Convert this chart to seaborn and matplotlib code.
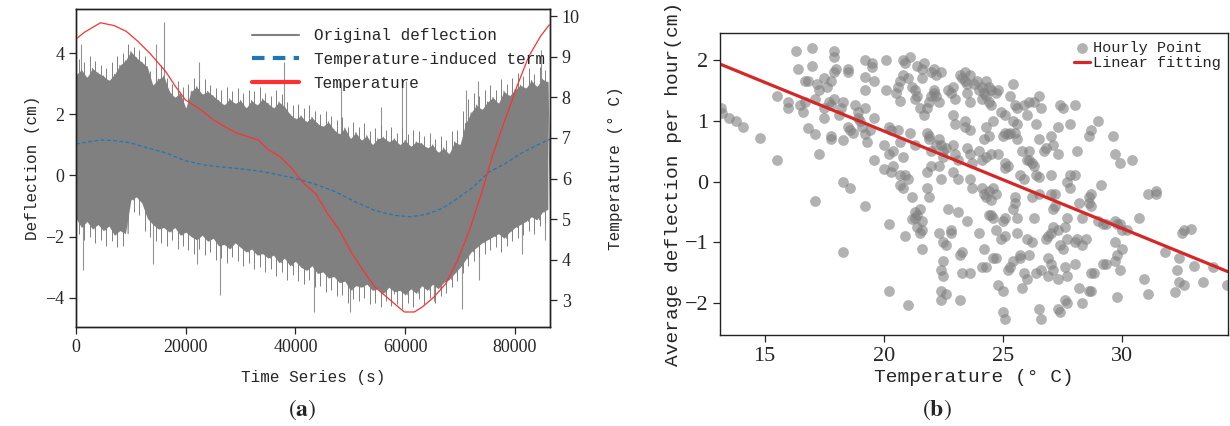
import numpy as np
import pandas as pd
import seaborn as sns
import matplotlib.pyplot as plt

# ---- panel (a): deflection time series ----
# dense band of the raw signal, read as upper / lower envelope every 1000 s
env_t = np.arange(0, 87000, 1000)
env_upper = [3.3, 3.45, 3.2, 3.5, 3.35, 3.25, 3.1, 3.3, 3.6, 3.75,
             4.05, 3.85, 3.7, 3.55, 2.95, 3.15, 3.25, 2.75, 2.55, 2.7,
             2.2, 2.75, 2.9, 2.65, 2.75, 2.6, 2.45, 2.3, 2.5, 2.35,
             2.45, 2.2, 2.45, 2.3, 2.5, 2.35, 2.2, 2.4, 2.25, 2.0,
             1.85, 1.95, 1.75, 1.9, 1.7, 1.6, 1.75, 1.5, 1.35, 1.55,
             1.2, 1.4, 1.15, 1.3, 1.0, 1.2, 1.25, 1.1, 1.2, 1.0,
             1.15, 0.95, 1.1, 1.05, 0.9, 1.0, 0.75, 0.9, 0.7, 1.1,
             1.0, 1.7, 2.05, 2.3, 2.15, 2.4, 2.55, 2.35, 2.75, 2.6,
             2.8, 2.95, 2.85, 3.1, 2.9, 3.15, 3.05]
env_lower = [-1.4, -1.7, -1.5, -1.75, -1.6, -1.8, -1.65, -1.95, -1.8, -1.9,
             -0.8, -0.7, -0.9, -1.4, -1.6, -1.75, -1.7, -1.85, -1.7, -1.95,
             -1.85, -2.0, -2.1, -1.95, -2.15, -2.05, -2.3, -2.25, -2.4, -2.2,
             -2.35, -2.5, -2.4, -2.6, -2.55, -2.7, -2.6, -2.85, -2.7, -2.95,
             -2.8, -3.0, -3.1, -2.95, -3.2, -3.15, -3.35, -3.3, -3.5, -3.45,
             -3.75, -3.6, -3.65, -3.55, -3.75, -3.7, -3.85, -3.65, -3.8, -3.75,
             -3.9, -3.7, -3.85, -3.6, -3.75, -3.55, -3.7, -3.5, -3.4, -3.2,
             -3.0, -2.75, -2.5, -2.35, -2.2, -2.1, -2.0, -1.9, -2.05, -1.85,
             -1.7, -1.6, -1.5, -1.35, -1.45, -1.2, -1.1]

# ragged tips of the noise just outside the band (at half steps)
fringe_up = [3.8, 3.7, 3.9, 3.75, 3.6, 3.5, 3.7, 3.9, 4.0, 4.3,
             4.2, 4.1, 3.9, 3.4, 3.5, 3.6, 3.2, 3.0, 3.1, 2.9,
             3.0, 3.2, 3.1, 3.15, 2.95, 2.85, 2.8, 2.9, 2.75, 2.85,
             2.7, 2.8, 2.75, 2.9, 2.7, 2.6, 2.8, 2.65, 2.4, 2.3,
             2.35, 2.2, 2.3, 2.1, 2.0, 2.1, 1.95, 1.8, 1.9, 1.6,
             1.75, 1.6, 1.7, 1.45, 1.55, 1.65, 1.5, 1.6, 1.4, 1.55,
             1.35, 1.5, 1.45, 1.3, 1.4, 1.2, 1.3, 1.15, 1.45, 1.5,
             2.1, 2.5, 2.7, 2.6, 2.8, 2.95, 2.8, 3.15, 3.0, 3.2,
             3.35, 3.25, 3.5, 3.3, 3.55, 3.45, 3.3]
fringe_lo = [-1.9, -2.1, -2.0, -2.2, -2.1, -2.3, -2.15, -2.35, -2.3, -1.4,
             -1.2, -1.3, -1.8, -2.0, -2.15, -2.2, -2.3, -2.1, -2.4, -2.3,
             -2.45, -2.55, -2.4, -2.6, -2.5, -2.75, -2.7, -2.85, -2.65, -2.8,
             -2.95, -2.85, -3.05, -3.0, -3.15, -3.05, -3.3, -3.15, -3.4, -3.25,
             -3.45, -3.55, -3.4, -3.65, -3.6, -3.8, -3.75, -3.95, -3.9, -4.15,
             -4.05, -4.1, -4.0, -4.2, -4.15, -4.3, -4.1, -4.25, -4.2, -4.35,
             -4.15, -4.3, -4.05, -4.2, -4.0, -4.15, -3.95, -3.85, -3.65, -3.45,
             -3.2, -2.95, -2.8, -2.65, -2.55, -2.45, -2.35, -2.5, -2.3, -2.15,
             -2.05, -1.95, -1.8, -1.9, -1.65, -1.55, -1.5]

# isolated spikes sticking out of the band
spike_t = [860, 9500, 14500, 16000, 22400, 37900, 48300, 55500, 59500, 60200,
           71000, 73200, 84700,
           1200, 14000, 22100, 26200, 43300, 49900, 58000, 65300, 70300,
           73500, 81200, 85400]
spike_y = [4.3, 4.2, 4.3, 5.0, 3.7, 3.7, 3.05, 2.25, 3.05, 3.1,
           2.8, 3.1, 4.1,
           -3.1, -2.9, -2.9, -3.9, -4.45, -4.45, -3.87, -4.1, -4.35,
           -3.4, -2.55, -2.1]

# temperature-induced term (cm)
trend_t = [0, 4460, 6980, 9850, 13450, 16330, 19930, 23530, 26400, 29280,
           33240, 36480, 40070, 43670, 47260, 50860, 54460, 58050, 60930, 63810,
           66690, 69570, 72440, 75320, 78200, 81080, 83960, 86400]
trend_y = [1.03, 1.16, 1.14, 1.07, 0.88, 0.74, 0.48, 0.34, 0.28, 0.23,
           0.15, 0.04, -0.10, -0.29, -0.53, -0.86, -1.14, -1.30, -1.35, -1.27,
           -1.08, -0.75, -0.37, 0.12, 0.39, 0.72, 0.99, 1.18]

# temperature (deg C, right axis)
temp_t = [0, 1580, 4460, 6980, 9140, 11300, 13450, 16330, 18130, 19930,
          22800, 24960, 27120, 29280, 31440, 33240, 35040, 37190, 39350, 41510,
          43670, 45830, 47980, 50140, 52300, 54460, 56620, 58770, 59850, 61650,
          63090, 65250, 67410, 69570, 71720, 73880, 76040, 78200, 80360, 82520,
          84670, 86260]
temp_y = [9.44, 9.61, 9.84, 9.77, 9.63, 9.38, 9.09, 8.64, 8.27, 7.94,
          7.69, 7.45, 7.28, 7.12, 7.03, 6.95, 6.71, 6.54, 6.25, 5.88,
          5.63, 5.14, 4.73, 4.19, 3.74, 3.33, 3.08, 2.83, 2.71, 2.71,
          2.83, 3.08, 3.41, 3.99, 4.73, 5.63, 6.62, 7.45, 8.27, 9.01,
          9.51, 9.79]

# ---- panel (b): hourly points ----
hour_temp = [13.15, 13.2, 13.5, 13.8, 14.1, 14.8, 15.5, 15.5, 16.0, 16.0,
             16.3, 16.4, 16.5, 16.7, 16.6, 16.7, 16.8, 16.8, 17.0, 17.0,
             17.1, 17.2, 17.3, 17.1, 17.3, 17.1, 17.5, 17.6, 17.5, 17.5,
             17.7, 17.8, 17.9, 17.8, 17.8, 17.9, 17.9, 17.9, 18.0, 17.8,
             18.1, 18.2, 18.3, 18.3, 18.3, 18.6, 18.3, 18.5, 18.5, 18.5,
             18.6, 18.7, 18.8, 18.9, 19.0, 19.1, 18.9, 19.2, 19.2, 19.2,
             19.2, 19.2, 19.5, 19.5, 19.6, 19.3, 19.4, 19.6, 19.6, 19.2,
             20.0, 20.0, 20.1, 20.1, 20.2, 20.3, 20.2, 20.4, 20.3, 20.4,
             20.2, 20.2, 20.5, 20.6, 20.7, 20.7, 20.8, 20.9, 20.8, 20.6,
             20.7, 20.8, 20.7, 20.7, 20.8, 20.9, 21.0, 20.9, 21.0, 21.0,
             21.1, 21.2, 21.3, 21.3, 21.4, 21.5, 21.4, 21.6, 21.6, 21.7,
             21.1, 21.3, 21.2, 21.3, 21.3, 21.4, 21.5, 21.4, 21.5, 21.2,
             21.6, 21.6, 21.6, 21.7, 21.8, 21.8, 21.9, 21.9, 22.0, 21.8,
             21.8, 22.0, 21.9, 21.9, 22.0, 22.1, 22.1, 22.2, 22.3, 22.0,
             22.1, 22.2, 22.4, 22.3, 22.2, 22.4, 22.5, 22.3, 22.4, 22.5,
             22.6, 22.3, 22.5, 22.6, 22.5, 22.4, 22.5, 22.4, 22.4, 22.6,
             22.7, 22.8, 22.8, 22.7, 22.8, 22.9, 23.0, 22.9, 23.0, 22.9,
             23.0, 23.1, 22.9, 23.1, 23.1, 23.2, 23.3, 23.3, 23.2, 23.2,
             23.3, 23.4, 23.4, 23.5, 23.6, 23.5, 23.6, 23.4, 23.4, 23.6,
             23.5, 23.6, 23.7, 23.6, 23.7, 23.5, 23.6, 23.8, 23.9, 24.0,
             24.1, 24.2, 24.1, 24.3, 24.3, 24.4, 24.5, 24.4, 24.5, 24.7,
             24.8, 24.6, 24.3, 24.2, 24.4, 24.0, 24.1, 24.3, 24.5, 24.8,
             24.1, 24.2, 24.3, 24.4, 24.5, 24.6, 24.7, 24.0, 24.2, 24.1,
             24.3, 24.4, 24.5, 24.6, 24.7, 24.6, 24.7, 24.8, 25.0, 25.0,
             25.1, 25.0, 25.1, 25.2, 25.3, 25.1, 25.1, 25.2, 24.9, 25.1,
             25.3, 25.4, 25.5, 25.6, 25.4, 25.6, 25.5, 25.6, 25.0, 25.1,
             24.9, 25.1, 25.2, 25.3, 25.4, 25.5, 25.4, 25.5, 25.6, 25.6,
             25.7, 25.7, 25.7, 25.9, 25.8, 26.0, 26.1, 26.1, 26.2, 26.3,
             26.4, 26.5, 25.9, 26.0, 26.1, 26.3, 26.5, 26.6, 26.4, 26.5,
             26.7, 25.8, 25.9, 26.0, 26.1, 26.0, 26.2, 26.2, 26.3, 26.5,
             26.4, 26.6, 26.5, 26.6, 26.8, 26.9, 27.0, 27.0, 27.1, 27.2,
             27.2, 27.1, 27.3, 26.9, 27.0, 26.9, 27.1, 27.3, 27.3, 27.4,
             26.8, 27.0, 27.1, 27.0, 27.3, 27.3, 27.4, 27.5, 27.4, 27.5,
             27.6, 27.7, 27.7, 27.6, 27.7, 27.6, 27.7, 27.7, 27.8, 27.8,
             28.0, 27.8, 28.0, 28.1, 28.2, 28.3, 28.1, 28.0, 28.3, 28.0,
             28.2, 28.3, 28.6, 28.7, 28.6, 28.7, 28.6, 28.7, 28.5, 28.7,
             28.8, 28.6, 28.7, 29.0, 29.1, 29.0, 29.2, 29.3, 29.2, 29.3,
             29.6, 29.7, 29.9, 29.7, 29.8, 29.7, 29.8, 29.7, 29.9, 29.8,
             30.0, 30.0, 29.9, 30.2, 30.4, 30.7, 30.9, 31.1, 31.1, 31.4,
             31.4, 31.8, 32.3, 32.2, 32.4, 32.4, 32.5, 32.6, 32.9, 32.6,
             33.0, 33.4, 33.8, 34.4]
hour_defl = [1.2, 1.12, 1.05, 1.0, 0.9, 0.72, 0.35, 1.4, 1.3, 1.2,
             2.15, 1.85, 1.25, 1.3, 1.15, 1.65, 1.65, 0.88, 2.2, 1.9,
             1.35, 1.6, 1.5, 0.78, 0.45, -0.32, 1.7, 1.55, 1.05, 1.2,
             1.3, 1.25, 1.35, 0.75, 0.7, 2.15, 2.05, 1.8, 1.85, 1.65,
             1.1, 1.2, 1.3, 0.68, 0.0, -0.1, -1.15, 1.8, 1.85, 0.9,
             0.85, 0.8, 1.25, 1.15, 1.0, 0.9, 1.05, 1.2, 0.78, 1.5,
             1.72, 2.0, 1.95, 1.88, 1.65, 0.65, 0.85, 1.05, 0.35, -0.4,
             0.6, 0.2, 1.5, 2.0, 0.9, 0.85, 0.45, 0.5, 0.15, 0.25,
             -0.7, -1.8, 1.45, 1.55, 1.65, 1.33, 2.0, 1.95, 1.75, 0.85,
             0.65, 0.4, 0.1, -0.05, -0.1, 0.1, 0.05, -0.9, -2.02, 1.7,
             2.05, 1.55, 1.5, 1.35, 1.4, 1.2, 1.9, 1.85, 1.7, 1.95,
             0.8, 0.6, -0.25, -0.5, -0.6, -0.55, -0.45, -0.75, -0.85, -0.62,
             -0.65, -0.8, -1.1, 1.1, 1.2, 0.8, 0.75, 0.7, 0.5, 0.15,
             -0.1, 0.25, -0.25, 1.3, 1.4, 1.45, 1.5, 1.4, 1.3, 1.8,
             1.85, 1.75, 1.8, 0.7, 0.6, 0.6, 0.5, 0.25, 0.05, 0.4,
             0.55, -0.85, -1.0, -1.05, -1.3, -1.45, -1.55, -1.8, -1.95, -1.85,
             -0.45, -0.8, -0.85, 1.5, 1.45, 1.55, 1.35, 1.1, 0.95, 0.6,
             0.45, 0.35, 0.15, 0.05, -0.5, -1.2, -1.15, -1.5, -1.95, 1.75,
             1.7, 1.8, 1.65, 1.6, 1.75, 1.45, 1.3, 1.0, 0.9, 0.85,
             0.55, 0.45, 0.3, 0.05, -0.1, -0.65, -1.5, 1.6, 1.65, 1.5,
             1.55, 1.45, 1.35, 1.65, 1.4, 1.55, 1.5, 1.3, 1.25, 1.45,
             1.5, 1.0, 0.9, 0.7, 0.75, 0.5, 0.35, 0.4, 0.45, 0.45,
             -0.1, -0.2, -0.25, -0.15, -0.3, -0.1, -0.2, -0.85, -1.1, -1.4,
             -1.4, -0.55, -0.55, -0.6, -0.8, -1.25, -1.25, -1.7, -1.8, -2.15,
             -2.25, 0.75, 0.8, 0.78, 0.8, 0.3, 0.22, 0.25, 1.15, 1.1,
             1.4, 1.6, 1.25, 1.2, 1.0, 0.95, 0.8, 0.7, -0.65, -0.6,
             -0.95, -0.9, -1.45, -1.4, -1.3, -0.25, -0.45, -0.35, -0.6, -0.85,
             -1.2, -1.25, 0.1, 0.05, 0.5, 0.35, 0.5, 0.35, 0.3, 0.25,
             0.1, 0.08, 1.25, 1.1, 1.3, 1.3, 1.4, 1.2, 0.95, 0.7,
             0.5, -1.75, -1.5, -1.6, -1.2, -0.95, -1.0, -0.25, -0.6, -0.2,
             -1.5, -1.45, -2.1, -2.25, -0.95, -0.9, -0.85, -0.2, -0.45, -0.2,
             -0.4, -0.75, -0.8, -1.25, -1.35, -1.55, -1.45, -1.6, -2.1, -2.15,
             0.55, 0.75, 0.6, 0.1, 0.45, 0.9, 1.25, 1.2, -1.05, -1.1,
             -0.75, -0.6, -0.95, -1.4, -1.55, -1.95, -2.0, 0.0, -0.1, 0.1,
             0.1, 0.95, 1.25, 0.5, -0.35, -0.6, -0.95, -1.0, -1.05, -1.35,
             -1.75, -2.0, 0.75, 0.85, -0.25, -0.2, -0.35, -0.4, -0.95, -1.5,
             -1.5, -1.8, -1.8, 1.0, -0.05, -0.65, -0.7, -0.7, -1.35, -1.35,
             0.75, 0.45, 0.3, -0.65, -0.7, -1.0, -1.2, -1.3, -1.45, -1.9,
             -1.1, -0.8, -0.7, -0.8, 0.35, -0.6, -1.6, -1.85, -0.2, -0.15,
             -0.2, -1.15, -1.45, -1.82, -1.65, -1.25, -0.85, -0.8, -0.78, -1.7,
             -1.38, -1.65, -1.4, -1.7]

# linear fit as drawn in the figure
fit_slope = -0.16
fit_intercept = 4.03

# ---- style ----
sns.set_style("ticks")
plt.rcParams['font.family'] = ['Liberation Mono', 'DejaVu Sans']
plt.rcParams['mathtext.fontset'] = 'stix'
plt.rcParams['axes.edgecolor'] = '#222222'
plt.rcParams['axes.linewidth'] = 1.0

fig = plt.figure(figsize=(12.3, 4.26), dpi=100)
ax = fig.add_axes([0.0618, 0.2324, 0.3854, 0.7465])
ax2 = ax.twinx()
axb = fig.add_axes([0.5854, 0.2136, 0.413, 0.709])

# -- panel a --
grey = '#808080'
zig_t = np.repeat(env_t, 2) + np.tile([0, 500], len(env_t))
zig_y = np.column_stack([env_upper, env_lower]).ravel()
half_t = env_t + 500
ax.fill_between(env_t, env_lower, env_upper, color=grey, lw=0)
l_orig, = ax.plot(zig_t, zig_y, color=grey, lw=0.8, label='Original deflection')
ax.vlines(half_t, 0, fringe_up, color=grey, lw=0.7)
ax.vlines(half_t, 0, fringe_lo, color=grey, lw=0.7)
ax.vlines(spike_t, 0, spike_y, color=grey, lw=0.8, alpha=0.85)
l_trend, = ax.plot(trend_t, trend_y, color='#1f77b4', lw=0.9, ls=(0, (3, 2)),
                   label='Temperature-induced term')
l_temp, = ax2.plot(temp_t, temp_y, color='#ff3030', lw=0.9, label='Temperature')

ax.set_xlim(0, 86400)
ax.set_ylim(-4.95, 5.44)
ax2.set_ylim(2.34, 10.18)
ax.set_xticks([0, 20000, 40000, 60000, 80000])
ax.set_yticks([-4, -2, 0, 2, 4])
ax2.set_yticks([3, 4, 5, 6, 7, 8, 9, 10])
for a in (ax, ax2):
    a.tick_params(labelsize=13, length=5, width=0.9)
    for lab in a.get_xticklabels() + a.get_yticklabels():
        lab.set_fontfamily('Liberation Serif')
ax.set_xlabel('Time Series (s)', fontsize=11.5, labelpad=10)
ax.set_ylabel('Deflection (cm)', fontsize=11.5, labelpad=4)
ax2.set_ylabel('Temperature (° C)', fontsize=11.5, labelpad=20)

leg = ax2.legend(handles=[l_orig, l_trend, l_temp], loc='upper left',
                 bbox_to_anchor=(0.34, 0.985), frameon=False, fontsize=11.5,
                 handlelength=3.0, handletextpad=0.9, labelspacing=0.55)
for ln, w in zip(leg.get_lines(), [1.5, 3.0, 3.0]):
    ln.set_linewidth(w)

# -- panel b --
pts = pd.DataFrame({'temp': hour_temp, 'defl': hour_defl})
sns.scatterplot(data=pts, x='temp', y='defl', ax=axb, color='#808080', alpha=0.6,
                s=60, linewidth=0, label='Hourly Point')
xl = np.array([13.13, 34.44])
axb.plot(xl, fit_intercept + fit_slope * xl, color='#d62728', lw=2.3,
         label='Linear fitting')
axb.set_xlim(13.13, 34.44)
axb.set_ylim(-2.52, 2.44)
axb.set_xticks([15, 20, 25, 30])
axb.set_yticks([-2, -1, 0, 1, 2])
axb.tick_params(labelsize=16, length=5, width=0.9)
for lab in axb.get_xticklabels() + axb.get_yticklabels():
    lab.set_fontfamily('Liberation Serif')
axb.set_xlabel('Temperature (° C)', fontsize=14, labelpad=2)
axb.set_ylabel('Average deflection per hour(cm)', fontsize=14, labelpad=2)
axb.legend(loc='upper right', frameon=False, fontsize=11, handlelength=1.0,
           handletextpad=0.2, labelspacing=0.1, borderaxespad=0.1)

fig.text(0.2455, 0.038, r'($\mathbf{a}$)', ha='center', va='center', fontsize=17,
         family='STIXGeneral')
fig.text(0.762, 0.038, r'($\mathbf{b}$)', ha='center', va='center', fontsize=17,
         family='STIXGeneral')

fig.savefig('out.png', dpi=100)
